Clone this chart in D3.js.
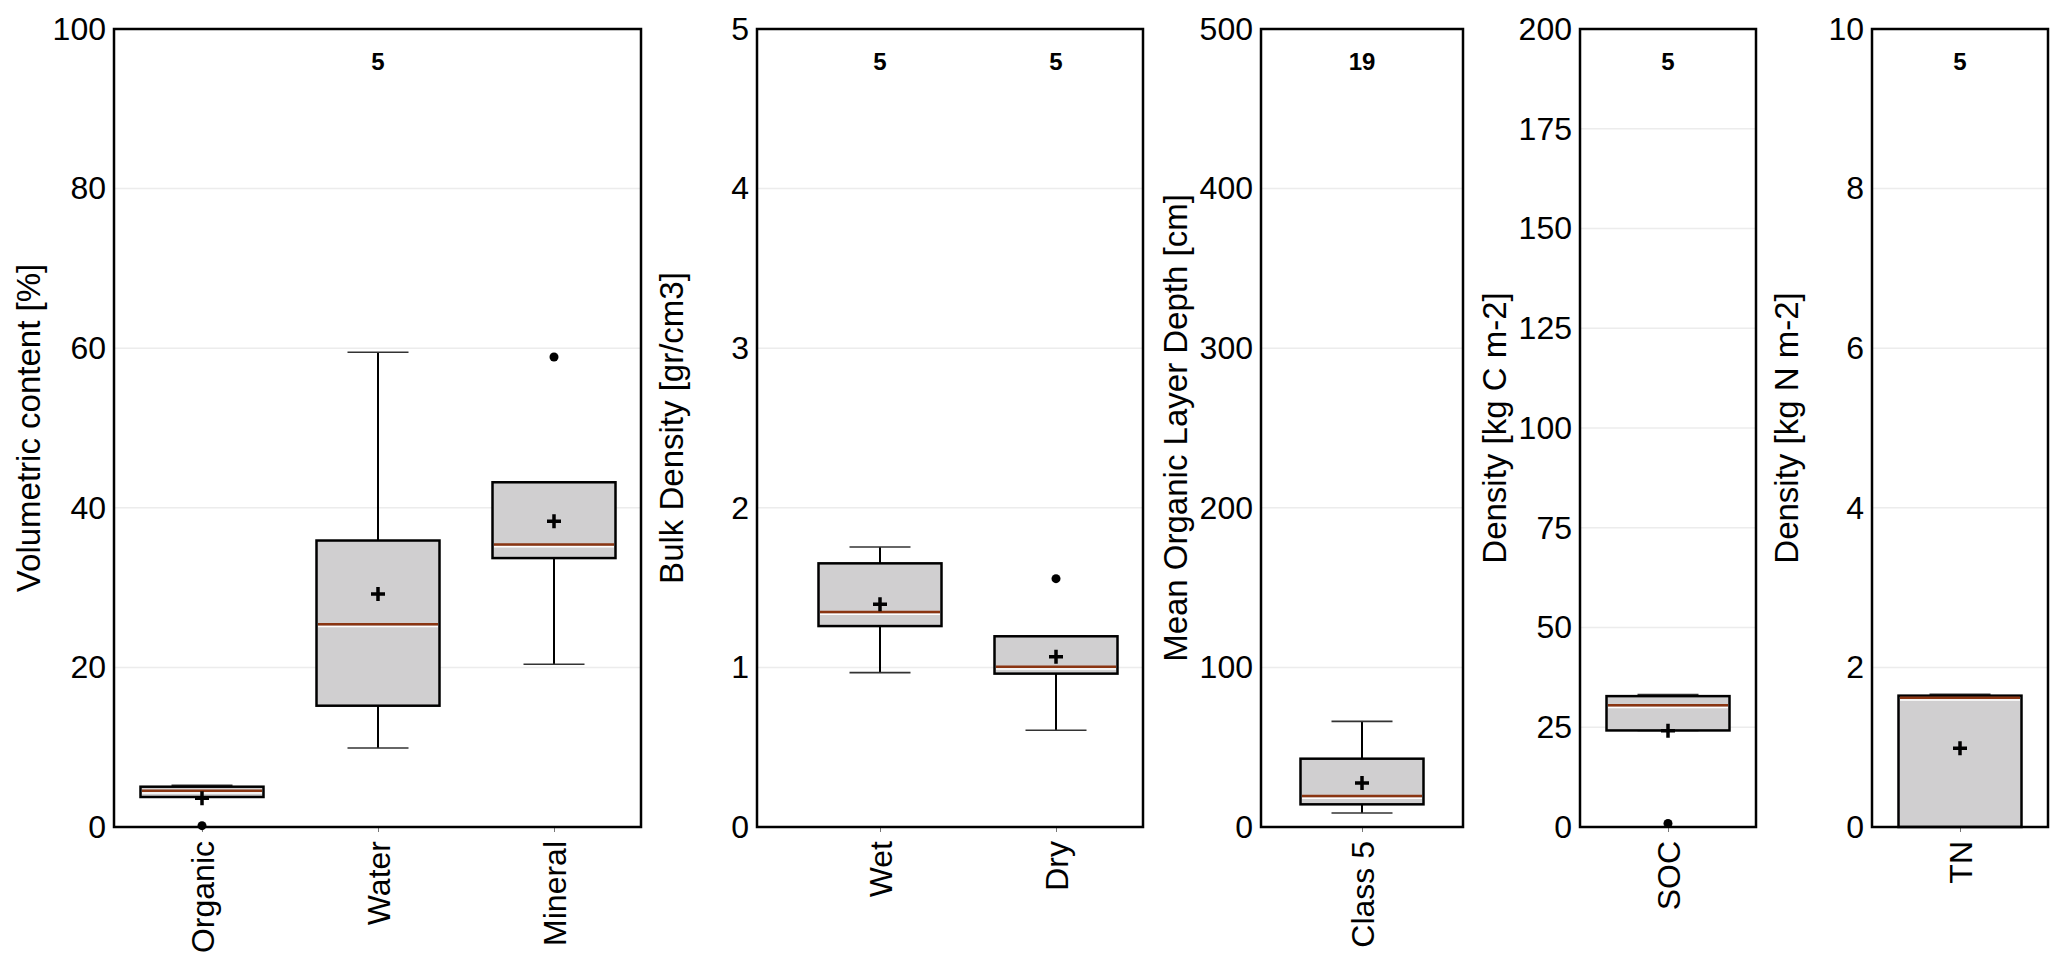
<!DOCTYPE html>
<html>
<head>
<meta charset="utf-8">
<script src="https://cdn.jsdelivr.net/npm/d3@7"></script>
<style>
  body { margin: 0; background: #fff; }
  text { font-family: "Liberation Sans", Arial, sans-serif; fill: #000; }
</style>
</head>
<body>
<svg width="2067" height="978"></svg>
<script>
// ---- data ----
// panel 1: volumetric content
var volCats = ["Organic", "Water", "Mineral"];
var volLo = [3.76, 9.9, 20.4];
var volQ1 = [3.76, 15.2, 33.7];
var volMed = [4.55, 25.4, 35.4];
var volQ3 = [5.05, 35.9, 43.2];
var volHi = [5.22, 59.5, 43.2];
var volMean = [3.6, 29.2, 38.3];
var volOut = [[0.17], [], [58.9]];
var volN = [null, 5, null];
var volTicks = [0, 20, 40, 60, 80, 100];

// panel 2: bulk density
var bdCats = ["Wet", "Dry"];
var bdLo = [0.967, 0.606];
var bdQ1 = [1.259, 0.961];
var bdMed = [1.347, 1.004];
var bdQ3 = [1.652, 1.195];
var bdHi = [1.754, 1.195];
var bdMean = [1.395, 1.067];
var bdOut = [[], [1.556]];
var bdN = [5, 5];
var bdTicks = [0, 1, 2, 3, 4, 5];

// panel 3: organic layer depth
var depCats = ["Class 5"];
var depLo = [8.8];
var depQ1 = [14.2];
var depMed = [19.4];
var depQ3 = [42.8];
var depHi = [66.2];
var depMean = [27.6];
var depOut = [[]];
var depN = [19];
var depTicks = [0, 100, 200, 300, 400, 500];

// panel 4: SOC
var socCats = ["SOC"];
var socLo = [24.2];
var socQ1 = [24.2];
var socMed = [30.5];
var socQ3 = [32.8];
var socHi = [33.2];
var socMean = [24.1];
var socOut = [[0.9]];
var socN = [5];
var socTicks = [0, 25, 50, 75, 100, 125, 150, 175, 200];

// panel 5: TN
var tnCats = ["TN"];
var tnLo = [0];
var tnQ1 = [0];
var tnMed = [1.62];
var tnQ3 = [1.646];
var tnHi = [1.663];
var tnMean = [0.986];
var tnOut = [[]];
var tnN = [5];
var tnTicks = [0, 2, 4, 6, 8, 10];

// ---- layout ----
var plotTop = 29, plotBottom = 827;
var unit = 176;       // px between box centres
var boxW = 123;
var capW = 61;

var panels = [
  { title: "Volumetric content [%]", cats: volCats, lo: volLo, q1: volQ1, med: volMed, q3: volQ3, hi: volHi, mean: volMean, out: volOut, n: volN, ticks: volTicks, left: 114, right: 641, c0: 202 },
  { title: "Bulk Density [gr/cm3]", cats: bdCats, lo: bdLo, q1: bdQ1, med: bdMed, q3: bdQ3, hi: bdHi, mean: bdMean, out: bdOut, n: bdN, ticks: bdTicks, left: 757, right: 1143, c0: 880 },
  { title: "Mean Organic Layer Depth [cm]", cats: depCats, lo: depLo, q1: depQ1, med: depMed, q3: depQ3, hi: depHi, mean: depMean, out: depOut, n: depN, ticks: depTicks, left: 1261, right: 1463, c0: 1362 },
  { title: "Density [kg C m-2]", cats: socCats, lo: socLo, q1: socQ1, med: socMed, q3: socQ3, hi: socHi, mean: socMean, out: socOut, n: socN, ticks: socTicks, left: 1580, right: 1756, c0: 1668 },
  { title: "Density [kg N m-2]", cats: tnCats, lo: tnLo, q1: tnQ1, med: tnMed, q3: tnQ3, hi: tnHi, mean: tnMean, out: tnOut, n: tnN, ticks: tnTicks, left: 1872, right: 2048, c0: 1960 }
];

var svg = d3.select("svg");

panels.forEach(function(p) {
  var k = p.cats.length;
  var y = d3.scaleLinear()
    .domain([0, d3.max(p.ticks)])
    .range([plotBottom, plotTop]);
  var x = d3.scaleLinear()
    .domain([0, Math.max(k - 1, 1)])
    .range([p.c0, p.c0 + Math.max(k - 1, 1) * unit]);

  var g = svg.append("g");

  // grid
  g.selectAll(".grid")
    .data(p.ticks.slice(1, -1))
    .enter().append("line")
    .attr("x1", p.left).attr("x2", p.right)
    .attr("y1", function(d) { return y(d); })
    .attr("y2", function(d) { return y(d); })
    .attr("stroke", "#ececec")
    .attr("stroke-width", 1.5);

  // y axis
  var ya = g.append("g")
    .attr("transform", "translate(" + p.left + ",0)")
    .call(d3.axisLeft(y).tickValues(p.ticks).tickSize(0).tickPadding(8).tickFormat(d3.format("d")));
  ya.select(".domain").remove();
  ya.selectAll("text").style("font-size", "32px");

  // x axis
  var xa = g.append("g")
    .attr("transform", "translate(0," + plotBottom + ")")
    .call(d3.axisBottom(x).tickValues(d3.range(k)).tickSize(5).tickFormat(function(i) { return p.cats[i]; }));
  xa.select(".domain").remove();
  xa.selectAll("line").attr("stroke", "#777");
  xa.selectAll("text")
    .attr("transform", "rotate(-90)")
    .attr("x", -14).attr("y", 0).attr("dy", "0.35em")
    .style("text-anchor", "end")
    .style("font-size", "32px");

  // axis title
  g.append("text")
    .attr("transform", "translate(" + (p.left - 74) + "," + ((plotTop + plotBottom) / 2) + ") rotate(-90)")
    .style("text-anchor", "middle")
    .style("font-size", "33px")
    .text(p.title);

  var idx = d3.range(k);

  // whiskers
  g.selectAll(".wh").data(idx).enter().append("line")
    .attr("x1", function(i) { return x(i); }).attr("x2", function(i) { return x(i); })
    .attr("y1", function(i) { return y(p.lo[i]); })
    .attr("y2", function(i) { return y(p.hi[i]); })
    .attr("stroke", "#000").attr("stroke-width", 2);

  // caps
  [p.lo, p.hi].forEach(function(arr) {
    g.selectAll(null).data(idx).enter().append("line")
      .attr("x1", function(i) { return x(i) - capW / 2; })
      .attr("x2", function(i) { return x(i) + capW / 2; })
      .attr("y1", function(i) { return y(arr[i]); })
      .attr("y2", function(i) { return y(arr[i]); })
      .attr("stroke", "#333").attr("stroke-width", 1.6);
  });

  // boxes
  g.selectAll(".box").data(idx).enter().append("rect")
    .attr("x", function(i) { return x(i) - boxW / 2; })
    .attr("y", function(i) { return y(p.q3[i]); })
    .attr("width", boxW)
    .attr("height", function(i) { return y(p.q1[i]) - y(p.q3[i]); })
    .attr("fill", "#d0cfd0")
    .attr("stroke", "#000").attr("stroke-width", 2.5);

  // median
  g.selectAll(".medw").data(idx).enter().append("line")
    .attr("x1", function(i) { return x(i) - boxW / 2 + 1.5; })
    .attr("x2", function(i) { return x(i) + boxW / 2 - 1.5; })
    .attr("y1", function(i) { return y(p.med[i]) + 2.2; })
    .attr("y2", function(i) { return y(p.med[i]) + 2.2; })
    .attr("stroke", "#fff").attr("stroke-width", 1.5);
  g.selectAll(".med").data(idx).enter().append("line")
    .attr("x1", function(i) { return x(i) - boxW / 2 + 1.5; })
    .attr("x2", function(i) { return x(i) + boxW / 2 - 1.5; })
    .attr("y1", function(i) { return y(p.med[i]); })
    .attr("y2", function(i) { return y(p.med[i]); })
    .attr("stroke", "#8a3512").attr("stroke-width", 2.5);

  // outliers
  var pts = [];
  idx.forEach(function(i) { p.out[i].forEach(function(v) { pts.push({ i: i, v: v }); }); });
  g.selectAll(".out").data(pts).enter().append("circle")
    .attr("cx", function(d) { return x(d.i); })
    .attr("cy", function(d) { return y(d.v); })
    .attr("r", 4.5)
    .attr("fill", "#000");

  // mean markers
  g.selectAll(".mean").data(idx).enter().append("path")
    .attr("d", function(i) {
      var cx = x(i), cy = y(p.mean[i]), s = 7;
      return "M" + (cx - s) + "," + cy + "H" + (cx + s) + "M" + cx + "," + (cy - s) + "V" + (cy + s);
    })
    .attr("stroke", "#000").attr("stroke-width", 3.5).attr("fill", "none");

  // counts
  g.selectAll(".cnt").data(idx.filter(function(i) { return p.n[i] != null; })).enter().append("text")
    .attr("x", function(i) { return x(i); })
    .attr("y", 70)
    .style("text-anchor", "middle")
    .style("font-size", "24px")
    .style("font-weight", "bold")
    .text(function(i) { return p.n[i]; });

  // frame
  g.append("rect")
    .attr("x", p.left).attr("y", plotTop)
    .attr("width", p.right - p.left).attr("height", plotBottom - plotTop)
    .attr("fill", "none")
    .attr("stroke", "#000").attr("stroke-width", 2.5);
});
</script>
</body>
</html>
